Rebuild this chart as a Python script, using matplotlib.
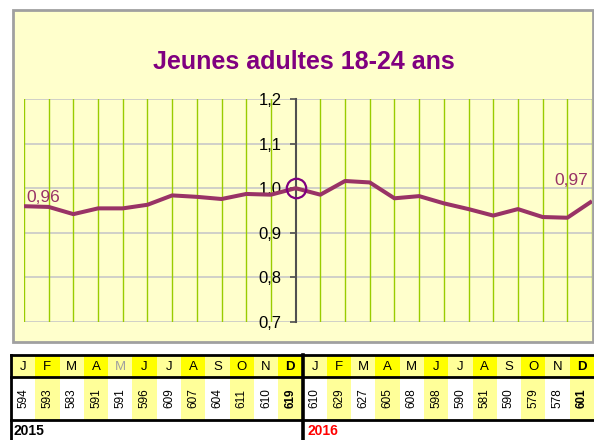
import matplotlib
matplotlib.use("Agg")
import matplotlib.pyplot as plt
import numpy as np
from matplotlib.patches import Rectangle

plt.rcParams['font.family'] = ['Liberation Sans', 'DejaVu Sans']

# --- Data ---
months = ["J", "F", "M", "A", "M", "J", "J", "A", "S", "O", "N", "D"]
counts_2015 = [594, 593, 583, 591, 591, 596, 609, 607, 604, 611, 610, 619]
counts_2016 = [610, 629, 627, 605, 608, 598, 590, 581, 590, 579, 578, 601]
years = ["2015", "2016"]
yticks = [0.7, 0.8, 0.9, 1.0, 1.1, 1.2]
ytick_labels = ["0,7", "0,8", "0,9", "1,0", "1,1", "1,2"]
first_label = "0,96"
last_label = "0,97"

counts = counts_2015 + counts_2016
base = counts_2015[-1]          # index = 1 at December 2015
index = np.array(counts) / base
x = np.arange(len(counts))

W, H = 594, 440
fig = plt.figure(figsize=(W / 100, H / 100), dpi=100)
fig.patch.set_facecolor("white")

def px(x0, y0, x1, y1):
    # pixel box -> figure fraction [left, bottom, width, height]
    return [x0 / W, 1 - y1 / H, (x1 - x0) / W, (y1 - y0) / H]

# outer chart frame (behind the axes)
frame = Rectangle((13 / W, 1 - 342 / H), 580 / W, 332 / H, transform=fig.transFigure,
                  facecolor="#FFFFCC", edgecolor="#A0A0A0", lw=2, zorder=-5)
fig.patches.append(frame)

fig.text(304 / W, 1 - 62 / H, "Jeunes adultes 18-24 ans", ha="center", va="center",
         fontsize=18, fontweight="bold", color="#800080")

# --- main plot ---
ax = fig.add_axes(px(24, 99, 592, 322))
ax.set_zorder(2)
ax.set_facecolor("#FFFFCC")
ax.set_xlim(0, len(counts) - 1)
ax.set_ylim(0.7, 1.2)
for v in yticks:
    ax.axhline(v, color="#C8C8C8", lw=1.2, zorder=1)
for xi in x:
    if xi != 11:
        ax.axvline(xi, color="#99CC00", lw=1, zorder=1)
ax.plot(x, index, color="#993366", lw=2.9, zorder=3, solid_capstyle="butt")
ax.plot([11], [index[11]], marker="o", ms=14, mfc="none", mec="#800080", mew=1.6,
        zorder=4, clip_on=False)

for s in ["top", "right", "bottom"]:
    ax.spines[s].set_visible(False)
ax.spines["left"].set_position(("data", 11))
ax.spines["left"].set_color("#505050")
ax.spines["left"].set_linewidth(1.5)
ax.set_xticks([])
ax.set_yticks(yticks)
ax.set_yticklabels(ytick_labels)
ax.tick_params(axis="y", direction="out", length=4.5, width=1.2, color="#505050",
               labelsize=12, pad=5.5)

ax.annotate(first_label, (x[0], index[0]), xytext=(2, 4), textcoords="offset pixels",
            ha="left", va="baseline", fontsize=12.5, color="#993366")
ax.annotate(last_label, (x[-1], index[-1]), xytext=(-4, 16), textcoords="offset pixels",
            ha="right", va="baseline", fontsize=12.5, color="#993366")

# --- table under the chart ---
tb = fig.add_axes(px(11, 355, 594, 440))
tb.set_xlim(0, 24)
tb.set_ylim(440, 355)
tb.axis("off")

all_months = months + months
for i in range(24):
    even = (i % 12) % 2 == 1
    head_bg = "#FFFF00" if even else "#FFFF99"
    val_bg = "#FFFF99" if even else "#FFFFFF"
    tb.add_patch(Rectangle((i, 355), 1, 22, facecolor=head_bg, edgecolor="none"))
    tb.add_patch(Rectangle((i, 377), 1, 43, facecolor=val_bg, edgecolor="none"))
    is_dec = (i % 12) == 11
    hcol = "#A0A0A0" if i == 4 else "black"
    tb.text(i + 0.5, 367, all_months[i], ha="center", va="center", fontsize=9.5,
            color=hcol, fontweight="bold" if is_dec else "normal")
    tb.text(i + 0.5, 398.5, str(counts[i]), ha="center", va="center", rotation=90,
            fontsize=8.5, fontweight="bold" if is_dec else "normal")

for yy in [355, 377, 420]:
    tb.plot([0, 24], [yy, yy], color="black", lw=2, clip_on=False)
tb.plot([0, 0], [355, 440], color="black", lw=2, clip_on=False)
tb.plot([12, 12], [355, 440], color="black", lw=2.6, clip_on=False)

tb.text(0.1, 431, years[0], ha="left", va="center", fontsize=10, fontweight="bold", color="black")
tb.text(12.2, 431, years[1], ha="left", va="center", fontsize=10, fontweight="bold", color="#FF0000")

fig.savefig("out.png", dpi=100)
